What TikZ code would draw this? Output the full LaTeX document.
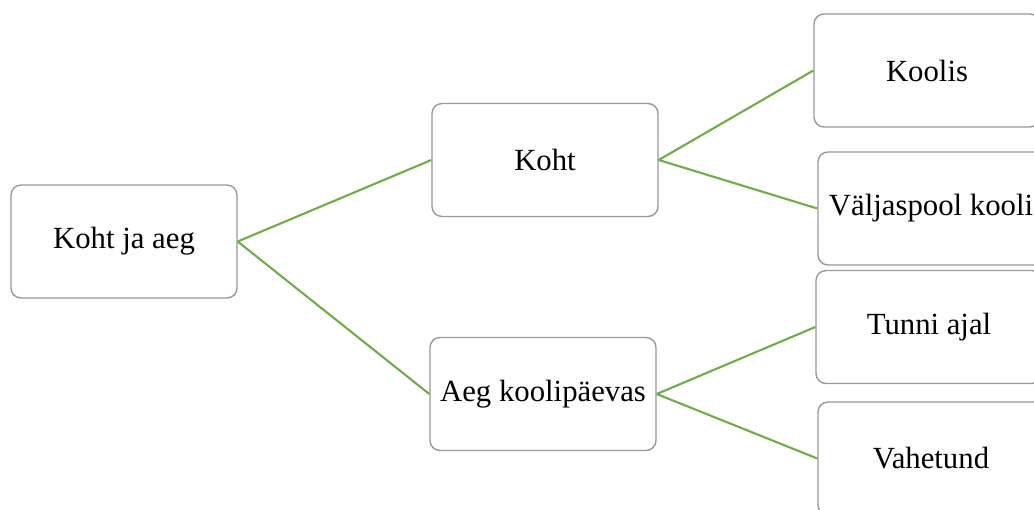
\documentclass[tikz,border=0pt]{standalone}
\usepackage{fontspec}
\setmainfont{Liberation Serif}
\usepackage{tikz}
\usetikzlibrary{calc}

\tikzset{
  box/.style={draw=black!40, line width=0.8pt, rounded corners=0.2cm, fill=white,
    minimum width=4.52cm, minimum height=2.26cm, inner sep=0pt,
    font=\fontsize{17.5}{20}\selectfont},
  link/.style={draw={rgb,255:red,112;green,173;blue,71}, line width=1.2pt}
}

\begin{document}
\begin{tikzpicture}
\clip (0,0) rectangle (20.68,-10.18);
\fill[white] (0,0) rectangle (20.68,-10.18);

\node[box] (root) at (2.48,-4.83) {Koht ja aeg};
\node[box] (koht) at (10.90,-3.20) {Koht};
\node[box] (aeg) at (10.86,-7.88) {Aeg koolipäevas};
\node[box] (koolis) at (18.54,-1.41) {Koolis};
\node[box] (valjas) at (18.62,-4.17) {Väljaspool kooli};
\node[box] (tund) at (18.58,-6.54) {Tunni ajal};
\node[box] (vahe) at (18.62,-9.17) {Vahetund};

\draw[link] (root.east) -- (koht.west);
\draw[link] (root.east) -- (aeg.west);
\draw[link] (koht.east) -- (koolis.west);
\draw[link] (koht.east) -- (valjas.west);
\draw[link] (aeg.east) -- (tund.west);
\draw[link] (aeg.east) -- (vahe.west);
\end{tikzpicture}
\end{document}
